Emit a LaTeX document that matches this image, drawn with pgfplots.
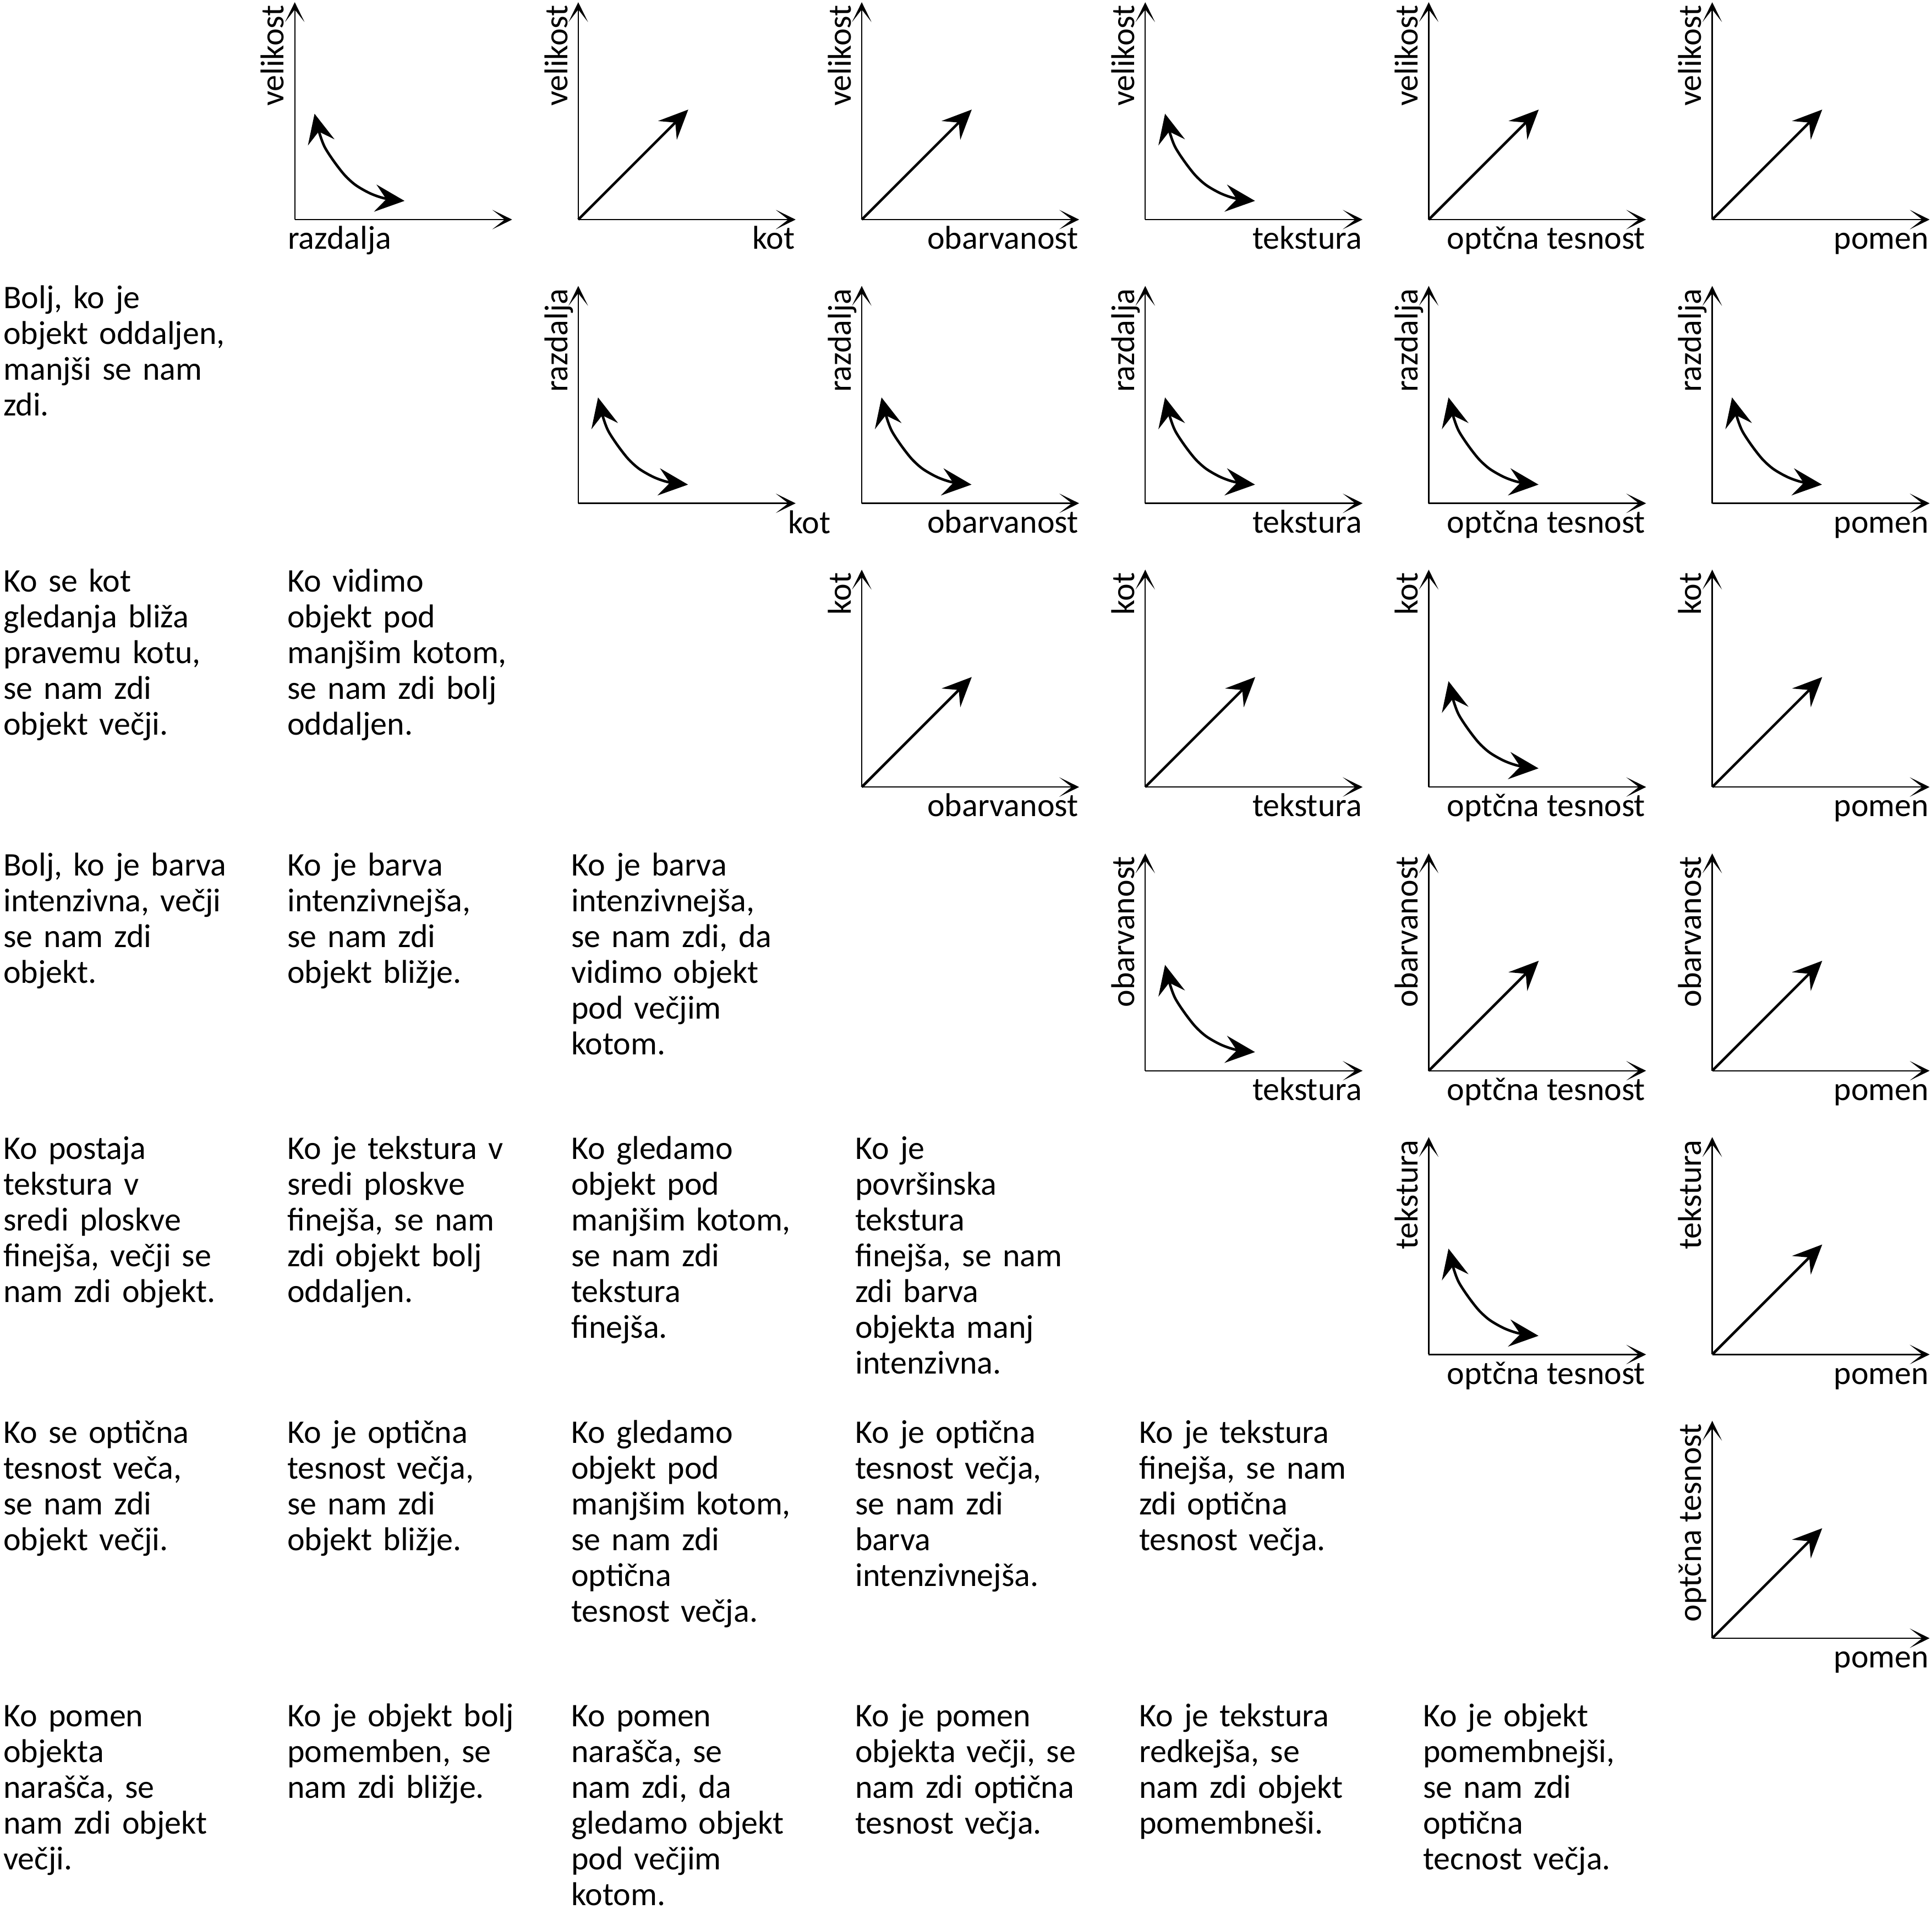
\documentclass[border=0pt]{standalone}
\usepackage{pgfplots}
\pgfplotsset{compat=1.18}
\usepackage{fontspec}
\setmainfont{Carlito}
\usetikzlibrary{arrows.meta}

\newcommand\cellfont{\fontsize{9}{9.75}\selectfont}

\tikzset{axtip/.style={line width=0.35pt, -{Stealth[length=5.4pt,width=5.3pt,inset=3.4pt]}}}

\pgfplotsset{
  panel/.style={
    scale only axis, width=59.25pt, height=59.25pt,
    xmin=0, xmax=1, ymin=0, ymax=1,
    axis lines*=left, xtick=\empty, ytick=\empty, clip=false,
    axis line style={axtip},
    anchor=south west},
  relarrow/.style={line width=0.7pt, black},
}

\begin{document}
\begin{tikzpicture}
\useasboundingbox (0,0) rectangle (526.65pt,-520.2pt);

% ---------- small diagrams (upper triangle) ----------
% row / col / y label / x label / type (1 = curved double arrow, 0 = straight arrow) / x-label mode
\foreach \r/\c/\yl/\xl/\t/\m in {
  0/1/velikost/razdalja/1/1,
  0/2/velikost/kot/0/0,
  0/3/velikost/obarvanost/0/0,
  0/4/velikost/tekstura/1/0,
  0/5/velikost/optčna tesnost/0/0,
  0/6/velikost/pomen/0/0,
  1/2/razdalja/kot/1/2,
  1/3/razdalja/obarvanost/1/0,
  1/4/razdalja/tekstura/1/0,
  1/5/razdalja/optčna tesnost/1/0,
  1/6/razdalja/pomen/1/0,
  2/3/kot/obarvanost/0/0,
  2/4/kot/tekstura/0/0,
  2/5/kot/optčna tesnost/1/0,
  2/6/kot/pomen/0/0,
  3/4/obarvanost/tekstura/1/0,
  3/5/obarvanost/optčna tesnost/0/0,
  3/6/obarvanost/pomen/0/0,
  4/5/tekstura/optčna tesnost/1/0,
  4/6/tekstura/pomen/0/0,
  5/6/optčna tesnost/pomen/0/0}{
  \pgfmathsetmacro\ox{(535.7+515.2*(\c-1))*0.15}
  \pgfmathsetmacro\oy{-(399+515.6*\r)*0.15}
  \ifcase\m
    \def\xa{base east}\def\xpx{1}\def\xpy{-0.136}%
  \or
    \def\xa{base west}\def\xpx{-0.035}\def\xpy{-0.136}%
  \or
    \def\xa{base west}\def\xpx{0.962}\def\xpy{-0.139}%
  \fi
  \begin{axis}[panel, at={(\ox pt,\oy pt)}]
    \ifnum\t=1
      \addplot[relarrow, smooth,
        arrows={Stealth[length=8pt,width=7.4pt,inset=3pt]-Stealth[length=8pt,width=7.4pt,inset=3pt]}]
        coordinates {(0.091,0.487) (0.112,0.403) (0.137,0.335) (0.180,0.268) (0.230,0.204)
                     (0.281,0.158) (0.348,0.120) (0.416,0.097) (0.505,0.086)};
    \else
      \addplot[relarrow, -{Stealth[length=8pt,width=7.2pt,inset=3pt]}]
        coordinates {(0,0) (0.506,0.506)};
    \fi
    \node[font=\cellfont, rotate=90, anchor=base east, inner sep=0pt] at (rel axis cs:-0.05,0.99) {\yl};
    \node[font=\cellfont, anchor=\xa, inner sep=0pt] at (rel axis cs:\xpx,\xpy) {\xl};
  \end{axis}
}

% ---------- explanatory texts (lower triangle) ----------
\foreach \r/\c/\txt in {
  1/0/{Bolj, ko je\\objekt oddaljen,\\manjši se nam\\zdi.},
  2/0/{Ko se kot\\gledanja bliža\\pravemu kotu,\\se nam zdi\\objekt večji.},
  2/1/{Ko vidimo\\objekt pod\\manjšim kotom,\\se nam zdi bolj\\oddaljen.},
  3/0/{Bolj, ko je barva\\intenzivna, večji\\se nam zdi\\objekt.},
  3/1/{Ko je barva\\intenzivnejša,\\se nam zdi\\objekt bližje.},
  3/2/{Ko je barva\\intenzivnejša,\\se nam zdi, da\\vidimo objekt\\pod večjim\\kotom.},
  4/0/{Ko postaja\\tekstura v\\sredi ploskve\\finejša, večji se\\nam zdi objekt.},
  4/1/{Ko je tekstura v\\sredi ploskve\\finejša, se nam\\zdi objekt bolj\\oddaljen.},
  4/2/{Ko gledamo\\objekt pod\\manjšim kotom,\\se nam zdi\\tekstura\\finejša.},
  4/3/{Ko je\\površinska\\tekstura\\finejša, se nam\\zdi barva\\objekta manj\\intenzivna.},
  5/0/{Ko se optična\\tesnost veča,\\se nam zdi\\objekt večji.},
  5/1/{Ko je optična\\tesnost večja,\\se nam zdi\\objekt bližje.},
  5/2/{Ko gledamo\\objekt pod\\manjšim kotom,\\se nam zdi\\optična\\tesnost večja.},
  5/3/{Ko je optična\\tesnost večja,\\se nam zdi\\barva\\intenzivnejša.},
  5/4/{Ko je tekstura\\finejša, se nam\\zdi optična\\tesnost večja.},
  6/0/{Ko pomen\\objekta\\narašča, se\\nam zdi objekt\\večji.},
  6/1/{Ko je objekt bolj\\pomemben, se\\nam zdi bližje.},
  6/2/{Ko pomen\\narašča, se\\nam zdi, da\\gledamo objekt\\pod večjim\\kotom.},
  6/3/{Ko je pomen\\objekta večji, se\\nam zdi optična\\tesnost večja.},
  6/4/{Ko je tekstura\\redkejša, se\\nam zdi objekt\\pomembneši.},
  6/5/{Ko je objekt\\pomembnejši,\\se nam zdi\\optična\\tecnost večja.}}{
  \pgfmathsetmacro\tx{(5+516*\c)*0.15}
  \pgfmathsetmacro\ty{-(560+515.6*(\r-1))*0.15}
  \node[font=\cellfont, anchor=base west, inner sep=0pt, text width=75pt, align=left]
    at (\tx pt,\ty pt) {\txt};
}
\end{tikzpicture}
\end{document}
